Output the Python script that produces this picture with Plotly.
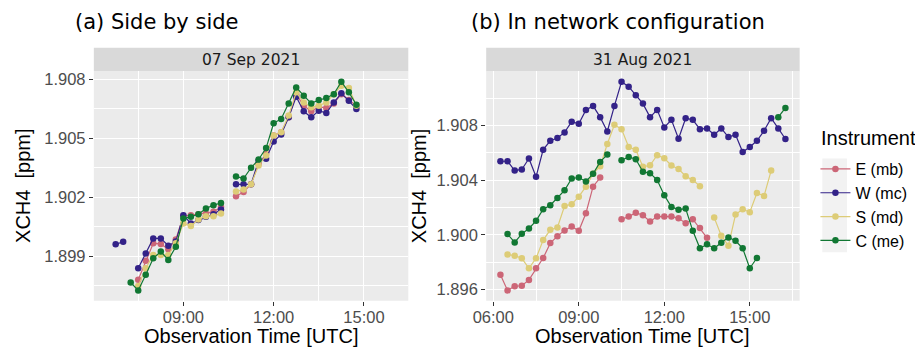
import plotly.graph_objects as go

# ---------------------------------------------------------------------------
# XCH4 15-minute means for four instruments
# ---------------------------------------------------------------------------
instruments = ["E (mb)", "W (mc)", "S (md)", "C (me)"]
colors = ["#CC6677", "#332288", "#DDCC77", "#117733"]

# (a) side by side, 07 Sep 2021
times_a = ["06:45", "07:00", "07:15", "07:30", "07:45", "08:00", "08:15", "08:30",
           "08:45", "09:00", "09:15", "09:30", "09:45", "10:00", "10:15", "10:30",
           "10:45", "11:00", "11:15", "11:30", "11:45", "12:00", "12:15", "12:30",
           "12:45", "13:00", "13:15", "13:30", "13:45", "14:00", "14:15", "14:30",
           "14:45"]
e_a = [None, None, None, 1.89781, 1.89878, 1.89966, 1.89963, 1.89936, 1.89986, 1.90105,
       1.90109, 1.90114, 1.90118, 1.90126, 1.90151, None, 1.90205, 1.90227, 1.90266,
       1.90370, 1.90421, 1.90514, 1.90530, 1.90606, 1.90724, 1.90665, 1.90637, 1.90660,
       1.90653, 1.90677, 1.90724, 1.90694, 1.90665]
w_a = [1.89961, 1.89974, None, 1.89840, 1.89915, 1.89991, 1.89991, 1.89954, 1.89975,
       1.90109, 1.90067, 1.90084, 1.90101, 1.90114, 1.90138, None, 1.90266, 1.90266,
       1.90266, 1.90387, 1.90396, 1.90483, 1.90519, 1.90606, 1.90711, 1.90637, 1.90606,
       1.90640, 1.90628, 1.90682, 1.90728, 1.90690, 1.90648]
s_a = [None, None, None, 1.89750, 1.89840, 1.89907, 1.89907, 1.89907, 1.89966, 1.90067,
       1.90054, 1.90087, 1.90104, 1.90104, 1.90118, None, 1.90230, 1.90239, 1.90266,
       1.90362, 1.90412, 1.90514, 1.90530, 1.90615, 1.90733, 1.90682, 1.90657, 1.90665,
       1.90682, 1.90724, 1.90766, 1.90755, 1.90665]
c_a = [None, None, 1.89767, 1.89727, 1.89806, 1.89890, 1.89924, 1.89882, 1.89949,
       1.90092, 1.90101, 1.90114, 1.90143, 1.90160, 1.90171, None, 1.90306, 1.90295,
       1.90350, 1.90392, 1.90450, 1.90576, 1.90598, 1.90677, 1.90758, 1.90716, 1.90677,
       1.90694, 1.90704, 1.90724, 1.90787, 1.90733, 1.90670]

# (b) in network configuration, 31 Aug 2021
times_b = ["06:15", "06:30", "06:45", "07:00", "07:15", "07:30", "07:45", "08:00",
           "08:15", "08:30", "08:45", "09:00", "09:15", "09:30", "09:45", "10:00",
           "10:15", "10:30", "10:45", "11:00", "11:15", "11:30", "11:45", "12:00",
           "12:15", "12:30", "12:45", "13:00", "13:15", "13:30", "13:45", "14:00",
           "14:15", "14:30", "14:45", "15:00", "15:15", "15:30", "15:45", "16:00",
           "16:15"]
e_b = [1.89707, 1.89593, 1.89624, 1.89627, 1.89670, 1.89755, 1.89830, 1.89939, 1.89990,
       1.90032, 1.90061, 1.90029, 1.90158, 1.90352, 1.90419, None, None, 1.90114,
       1.90133, 1.90162, 1.90143, 1.90097, 1.90133, 1.90133, 1.90133, 1.90121, 1.90085,
       1.90114, 1.90049, 1.89978, None, None, None, None, None, None, None, None, None,
       None, None]
w_b = [1.90538, 1.90538, 1.90470, 1.90478, 1.90558, 1.90424, 1.90623, 1.90688, 1.90708,
       1.90749, 1.90827, 1.90812, 1.90914, 1.90943, 1.90861, 1.90756, 1.90943, 1.91120,
       1.91084, 1.91021, 1.90960, 1.90861, 1.90914, 1.90785, 1.90841, 1.90703, 1.90853,
       1.90841, 1.90773, 1.90778, 1.90732, 1.90778, 1.90715, 1.90732, 1.90606, 1.90642,
       1.90688, 1.90761, 1.90853, 1.90778, 1.90701]
s_b = [None, 1.89855, 1.89847, 1.89828, 1.89755, 1.89828, 1.89961, 1.90036, 1.90053,
       1.90211, 1.90223, 1.90279, 1.90352, 1.90446, 1.90502, 1.90664, 1.90805, 1.90773,
       1.90642, 1.90623, 1.90497, 1.90509, 1.90582, 1.90560, 1.90507, 1.90482, 1.90429,
       1.90400, 1.90356, None, 1.90126, 1.89993, 1.89920, 1.90148, 1.90187, 1.90165,
       1.90306, 1.90284, 1.90470, None, None]
c_b = [None, 1.90005, 1.89944, 1.90007, 1.90046, 1.90102, 1.90187, 1.90216, 1.90269,
       1.90325, 1.90412, 1.90419, 1.90390, 1.90446, 1.90533, 1.90587, None, 1.90545,
       1.90570, 1.90553, 1.90461, 1.90451, 1.90400, 1.90289, 1.90204, 1.90184, 1.90192,
       1.90029, 1.89901, 1.89930, 1.89901, 1.89942, 1.89981, 1.89956, 1.89901, 1.89755,
       1.89830, None, None, 1.90861, 1.90928]

panels = [
    dict(day="2021-09-07", strip="07 Sep 2021", title="(a) Side by side",
         times=times_a, series=[e_a, w_a, s_a, c_a],
         xrange=("06:01:30", "16:28:30"), dtick=0.003, tick0=1.899),
    dict(day="2021-08-31", strip="31 Aug 2021", title="(b) In network configuration",
         times=times_b, series=[e_b, w_b, s_b, c_b],
         xrange=("05:45:00", "16:45:00"), dtick=0.004, tick0=1.896),
]

# ---------------------------------------------------------------------------
# Page geometry (pixels of a 915 x 347 canvas)
# ---------------------------------------------------------------------------
W, H = 915, 347
panel_x = [(82, 401), (480, 798)]
panel_top, panel_bottom = 70.5, 300.7
strip_top = 47
title_left = [61, 463]
ytitle_x = [10, 412]

def px(x):
    return x / W

def py(y):
    return 1 - y / H

TEXT_FONT = "Liberation Sans, Arial, sans-serif"
TICK_FONT = dict(family=TEXT_FONT, size=16.5, color="#4D4D4D")
PANEL_BG = "#EBEBEB"

fig = go.Figure()
shapes, annotations = [], []

for i, p in enumerate(panels):
    xa = "x" if i == 0 else "x2"
    ya = "y" if i == 0 else "y2"
    xs = [f"{p['day']} {t}" for t in p["times"]]
    for name, col, vals in zip(instruments, colors, p["series"]):
        fig.add_trace(go.Scatter(
            x=xs, y=vals, mode="lines+markers", name=name,
            line=dict(color=col, width=1.2), marker=dict(color=col, size=6.5),
            connectgaps=False, showlegend=(i == 0), legendgroup=name,
            xaxis=xa, yaxis=ya,
        ))

    # y range: data extent widened by 5 % on both sides
    vals = [v for s in p["series"] for v in s if v is not None]
    lo, hi = min(vals), max(vals)
    pad = 0.05 * (hi - lo)

    x0, x1 = panel_x[i]
    axis_x = dict(
        domain=[px(x0), px(x1)], type="date",
        range=[f"{p['day']} {p['xrange'][0]}", f"{p['day']} {p['xrange'][1]}"],
        tick0=f"{p['day']} 00:00", dtick=3 * 3600 * 1000, tickformat="%H:%M",
        showgrid=True, gridcolor="white", gridwidth=1.1,
        minor=dict(dtick=1.5 * 3600 * 1000, tick0=f"{p['day']} 00:00",
                   showgrid=True, gridcolor="white", gridwidth=0.55),
        ticks="outside", ticklen=4, tickwidth=1, tickcolor="#333333",
        tickfont=TICK_FONT, ticklabelstandoff=-3,
        showline=False, zeroline=False, anchor=ya,
    )
    axis_y = dict(
        domain=[py(panel_bottom), py(panel_top)],
        range=[lo - pad, hi + pad], tick0=p["tick0"], dtick=p["dtick"],
        tickformat=".3f",
        showgrid=True, gridcolor="white", gridwidth=1.1,
        minor=dict(dtick=p["dtick"] / 2, showgrid=True, gridcolor="white",
                   gridwidth=0.55),
        ticks="outside", ticklen=4, tickwidth=1, tickcolor="#333333",
        tickfont=TICK_FONT, showline=False, zeroline=False, anchor=xa,
    )
    if i == 0:
        fig.update_layout(xaxis=axis_x, yaxis=axis_y)
    else:
        fig.update_layout(xaxis2=axis_x, yaxis2=axis_y)

    # panel background and facet strip
    shapes.append(dict(type="rect", xref="paper", yref="paper", layer="below",
                       x0=px(x0), x1=px(x1), y0=py(panel_bottom), y1=py(panel_top),
                       fillcolor=PANEL_BG, line=dict(width=0)))
    shapes.append(dict(type="rect", xref="paper", yref="paper", layer="below",
                       x0=px(x0), x1=px(x1), y0=py(panel_top), y1=py(strip_top),
                       fillcolor="#D9D9D9", line=dict(width=0)))
    annotations.append(dict(text=p["strip"], xref="paper", yref="paper",
                            x=px((x0 + x1) / 2), y=py((strip_top + panel_top) / 2),
                            xanchor="center", yanchor="middle", showarrow=False,
                            font=dict(family="DejaVu Sans", size=15.5, color="#1A1A1A")))
    # panel title
    annotations.append(dict(text=p["title"], xref="paper", yref="paper",
                            x=px(title_left[i]), y=py(21), xanchor="left",
                            yanchor="middle", showarrow=False,
                            font=dict(family="DejaVu Sans", size=21, color="black")))
    # axis titles
    annotations.append(dict(text="Observation Time [UTC]", xref="paper", yref="paper",
                            x=px((x0 + x1) / 2), y=py(336), xanchor="center",
                            yanchor="middle", showarrow=False,
                            font=dict(family=TEXT_FONT, size=20, color="black")))
    annotations.append(dict(text="XCH4  [ppm]", xref="paper", yref="paper",
                            x=px(ytitle_x[i]), y=py((panel_top + panel_bottom) / 2),
                            xanchor="center", yanchor="middle", textangle=-90,
                            showarrow=False,
                            font=dict(family=TEXT_FONT, size=20, color="black")))

# legend heading and light key background behind the legend symbols
annotations.append(dict(text="Instrument", xref="paper", yref="paper",
                        x=px(818), y=py(137), xanchor="left", yanchor="middle",
                        showarrow=False,
                        font=dict(family=TEXT_FONT, size=20, color="black")))
shapes.append(dict(type="rect", xref="paper", yref="paper", layer="below",
                   x0=px(821), x1=px(846), y0=py(252), y1=py(158),
                   fillcolor="#F2F2F2", line=dict(width=0)))

fig.update_layout(
    width=W, height=H, margin=dict(l=0, r=0, t=0, b=0),
    paper_bgcolor="white", plot_bgcolor="rgba(0,0,0,0)",
    shapes=shapes, annotations=annotations,
    legend=dict(
        font=dict(family=TEXT_FONT, size=16, color="black"),
        x=px(814), y=py(151.5), xanchor="left", yanchor="top",
        bgcolor="rgba(0,0,0,0)", borderwidth=0, tracegroupgap=0,
    ),
    hovermode=False,
)

fig.write_html("out.html")
